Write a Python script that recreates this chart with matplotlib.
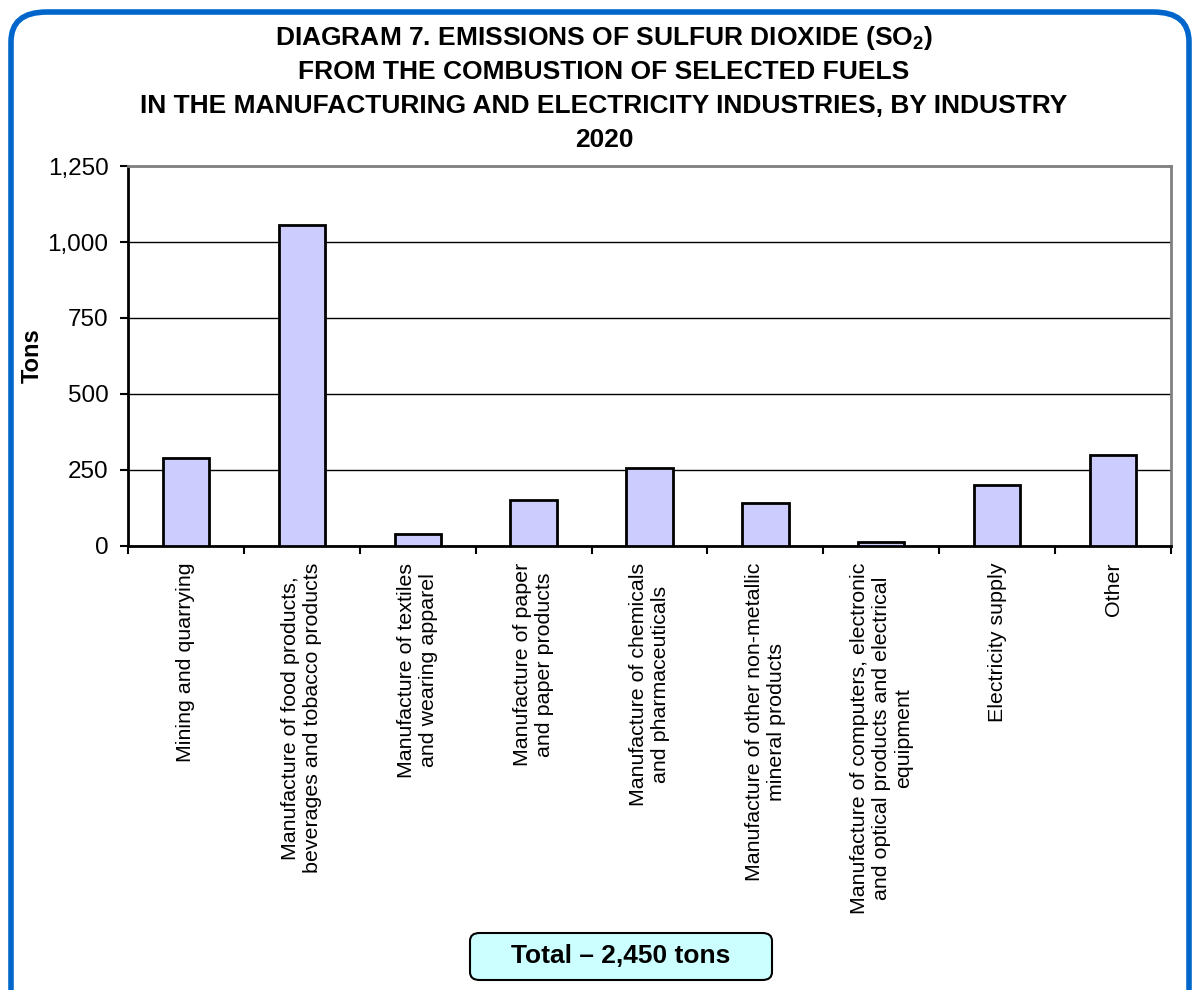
import numpy as np
import matplotlib
matplotlib.use('Agg')
import matplotlib.pyplot as plt
from matplotlib.patches import FancyBboxPatch

plt.rcParams['font.family'] = ['Liberation Sans', 'DejaVu Sans']
plt.rcParams['mathtext.fontset'] = 'custom'
plt.rcParams['mathtext.rm'] = 'Liberation Sans'
plt.rcParams['mathtext.bf'] = 'Liberation Sans:bold'

industries = [
    'Mining and quarrying',
    'Manufacture of food products,\nbeverages and tobacco products',
    'Manufacture of textiles\nand wearing apparel',
    'Manufacture of paper\nand paper products',
    'Manufacture of chemicals\nand pharmaceuticals',
    'Manufacture of other non-metallic\nmineral products',
    'Manufacture of computers, electronic\nand optical products and electrical\nequipment',
    'Electricity supply',
    'Other',
]
tons = [290, 1057, 40, 150, 258, 141, 12, 202, 300]
yticks = [0, 250, 500, 750, 1000, 1250]
ytick_labels = ['0', '250', '500', '750', '1,000', '1,250']

W, H = 1192, 990
fig = plt.figure(figsize=(W / 100, H / 100), dpi=100)

# rounded blue frame (bottom runs off the page)
frame = FancyBboxPatch((11 / W, -40 / H), 1178 / W, 1018 / H,
                       boxstyle='round,pad=0,rounding_size=0.03',
                       transform=fig.transFigure, facecolor='none',
                       edgecolor='#0066CC', linewidth=4, clip_on=False)
fig.patches.append(frame)

# title
title_lines = [
    r'DIAGRAM 7. EMISSIONS OF SULFUR DIOXIDE (SO$_\mathbf{2}$)',
    'FROM THE COMBUSTION OF SELECTED FUELS',
    'IN THE MANUFACTURING AND ELECTRICITY INDUSTRIES, BY INDUSTRY',
    '2020',
]
for i, line in enumerate(title_lines):
    fig.text(604 / W, 1 - (38 + 34 * i) / H, line, ha='center', va='center',
             fontsize=19, fontweight='bold')

ax = fig.add_axes([128 / W, 1 - 546 / H, (1171 - 128) / W, (546 - 166) / H])
x = np.arange(len(industries))
ax.bar(x, tons, width=0.4, color='#CCCCFF', edgecolor='black', linewidth=2, zorder=3)

ax.set_xlim(-0.5, len(industries) - 0.5)
ax.set_ylim(0, 1250)
ax.set_yticks(yticks)
ax.set_yticklabels(ytick_labels, fontsize=17.5)
ax.yaxis.grid(True, color='black', linewidth=1)
ax.set_axisbelow(True)

ax.set_xticks(np.arange(-0.5, len(industries)), [''] * (len(industries) + 1))
ax.set_xticks(x, industries, minor=True)
ax.tick_params(axis='x', which='major', length=6, width=1.5, direction='out')
ax.tick_params(axis='x', which='minor', length=0, labelrotation=90, labelsize=15.4, pad=12)
ax.tick_params(axis='y', length=6, width=1.5, pad=8)
for lab in ax.get_xticklabels(minor=True):
    lab.set_multialignment('center')

for side in ['left', 'bottom']:
    ax.spines[side].set_linewidth(2)
for side in ['top', 'right']:
    ax.spines[side].set_color('#808080')
    ax.spines[side].set_linewidth(2)

fig.text(32 / W, 1 - 356 / H, 'Tons', rotation=90, ha='center', va='center',
         fontsize=17, fontweight='bold')

# total box
box = FancyBboxPatch((470 / W, 1 - 980 / H), 302 / W, 47 / H,
                     boxstyle='round,pad=0,rounding_size=0.008',
                     transform=fig.transFigure, facecolor='#CCFFFF',
                     edgecolor='black', linewidth=1.5)
fig.patches.append(box)
fig.text(621 / W, 1 - 956 / H, 'Total \u2013 2,450 tons', ha='center', va='center',
         fontsize=19, fontweight='bold')

fig.savefig('out.png', dpi=100)
